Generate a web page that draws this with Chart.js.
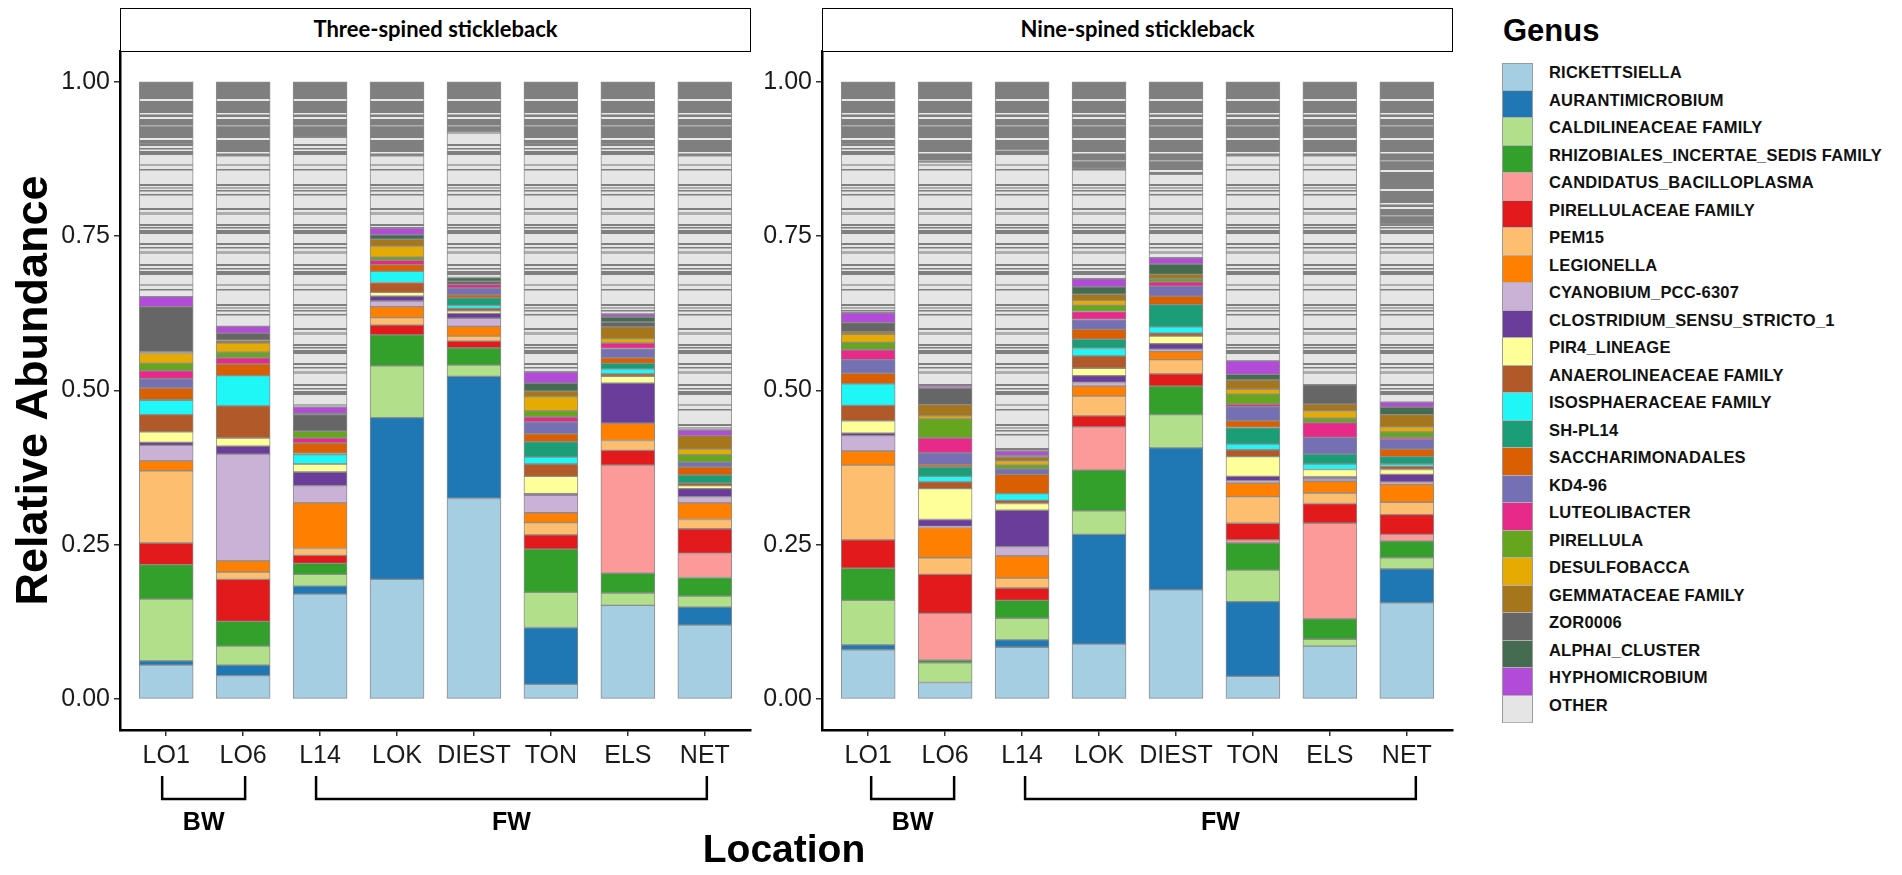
<!DOCTYPE html>
<html>
<head>
<meta charset="utf-8">
<title>Genus relative abundance by location</title>
<script src="https://cdn.jsdelivr.net/npm/chart.js@4.4.1/dist/chart.umd.min.js"></script>
<style>
  html, body { margin: 0; padding: 0; background: #fff; }
  body { width: 1902px; height: 875px; position: relative; overflow: hidden; font-family: 'Liberation Sans', Arial, sans-serif; }
  canvas { position: absolute; top: 0; }
  #left { left: 0; }
  #right { left: 760px; }
  .strip { position: absolute; top: 8px; width: 631px; height: 44px; box-sizing: border-box; border: 1.5px solid #000;
           background: #fff; font: bold 22px Lato, sans-serif; text-align: center; line-height: 40px; color: #000; }
  #xtitle { position: absolute; left: 584px; width: 400px; top: 829px; text-align: center;
            font: bold 39px 'Liberation Sans', Arial, sans-serif; line-height: 39px; color: #000; }
  #genus { position: absolute; left: 1503px; top: 15px; font: bold 31px 'Liberation Sans', Arial, sans-serif; line-height: 31px; }
  #legend { position: absolute; left: 1502px; top: 63px; }
  .row { position: relative; height: 27.5px; width: 400px; }
  .key { position: absolute; left: 0; top: 0; width: 31px; height: 27.5px; box-sizing: border-box;
         border-left: 1px solid #9a9a9a; border-right: 1px solid #9a9a9a; border-bottom: 1px solid #b0b0b0; }
  .row:first-child .key { border-top: 1px solid #9a9a9a; }
  .lbl { position: absolute; left: 47px; top: 0; line-height: 28px; white-space: nowrap;
         font: bold 16.5px 'Liberation Sans', Arial, sans-serif; color: #111; letter-spacing: 0.2px; }
</style>
</head>
<body>
<canvas id="left" width="760" height="875"></canvas>
<canvas id="right" width="700" height="875"></canvas>
<div class="strip" style="left:120px">Three-spined stickleback</div>
<div class="strip" style="left:822px">Nine-spined stickleback</div>
<div id="xtitle">Location</div>
<div id="genus">Genus</div>
<div id="legend"></div>

<script>
// categories
var LOCATIONS = ['LO1', 'LO6', 'L14', 'LOK', 'DIEST', 'TON', 'ELS', 'NET'];
var GROUPS = [{ label: 'BW', from: 0, to: 1 }, { label: 'FW', from: 2, to: 7 }];
var Y_TICKS = [0, 0.25, 0.5, 0.75, 1];

var GENERA = ['RICKETTSIELLA', 'AURANTIMICROBIUM', 'CALDILINEACEAE FAMILY', 'RHIZOBIALES_INCERTAE_SEDIS FAMILY',
  'CANDIDATUS_BACILLOPLASMA', 'PIRELLULACEAE FAMILY', 'PEM15', 'LEGIONELLA', 'CYANOBIUM_PCC-6307',
  'CLOSTRIDIUM_SENSU_STRICTO_1', 'PIR4_LINEAGE', 'ANAEROLINEACEAE FAMILY', 'ISOSPHAERACEAE FAMILY', 'SH-PL14',
  'SACCHARIMONADALES', 'KD4-96', 'LUTEOLIBACTER', 'PIRELLULA', 'DESULFOBACCA', 'GEMMATACEAE FAMILY',
  'ZOR0006', 'ALPHAI_CLUSTER', 'HYPHOMICROBIUM'];
var GENUS_COLORS = ['#a6cee3', '#1f78b4', '#b2df8a', '#33a02c', '#fb9a99', '#e31a1c', '#fdbf6f', '#ff7f00', '#cab2d6',
  '#6a3d9a', '#ffff99', '#b15928', '#1ff6f6', '#1b9e77', '#d95f02', '#7570b3', '#e7298a', '#66a61e', '#e6ab02',
  '#a6761d', '#666666', '#456c51', '#b24bd8'];
var OTHER_COLOR = '#e5e5e5';

// Three-spined stickleback, one array per location, genera in GENERA order
var TS_LO1   = [0.055, 0.007, 0.100, 0.056, 0, 0.035, 0.117, 0.016, 0.025, 0.005, 0.017, 0.028, 0.023, 0.001, 0.019, 0.015, 0.013, 0.012, 0.016, 0.003, 0.073, 0, 0.016];
var TS_LO6   = [0.038, 0.017, 0.031, 0.040, 0, 0.068, 0.012, 0.018, 0.173, 0.013, 0.013, 0.052, 0.049, 0, 0.019, 0, 0.010, 0.009, 0.015, 0.004, 0.012, 0, 0.011];
var TS_L14   = [0.170, 0.013, 0.019, 0.018, 0, 0.013, 0.011, 0.074, 0.028, 0.022, 0.013, 0, 0.015, 0.002, 0.017, 0, 0.008, 0.011, 0, 0, 0.027, 0.002, 0.010];
var TS_LOK   = [0.194, 0.262, 0.084, 0.050, 0, 0.016, 0.012, 0.018, 0.009, 0.008, 0.006, 0.016, 0.018, 0, 0.011, 0, 0.007, 0.005, 0.018, 0.011, 0, 0.007, 0.011];
var TS_DIEST = [0.325, 0.198, 0.018, 0.028, 0, 0.011, 0.008, 0.016, 0.013, 0.008, 0.004, 0.004, 0.005, 0.012, 0.005, 0.011, 0.006, 0, 0, 0, 0.005, 0.006, 0];
var TS_TON   = [0.024, 0.092, 0.057, 0.070, 0, 0.023, 0.020, 0.016, 0.028, 0.003, 0.028, 0.020, 0.011, 0.025, 0.013, 0.019, 0.008, 0.010, 0.023, 0.009, 0, 0.013, 0.018];
var TS_ELS   = [0.152, 0, 0.020, 0.032, 0.175, 0.024, 0.016, 0.028, 0, 0.065, 0.011, 0.004, 0.008, 0.009, 0.009, 0.015, 0.009, 0, 0.007, 0.019, 0.008, 0.008, 0.005];
var TS_NET   = [0.120, 0.029, 0.018, 0.030, 0.039, 0.040, 0.015, 0.027, 0.010, 0.013, 0.005, 0.004, 0, 0.013, 0.013, 0.008, 0, 0.012, 0.009, 0.022, 0, 0, 0.009];
// OTHER: the light part, then the dense band of tiny taxa at the top
var TS_OTHER = [0.248, 0.276, 0.437, 0.117, 0.237, 0.370, 0.276, 0.444];
var TS_RARE  = [0.100, 0.120, 0.090, 0.120, 0.080, 0.100, 0.100, 0.120];

// Nine-spined stickleback
var NS_LO1   = [0.080, 0.008, 0.072, 0.052, 0, 0.046, 0.121, 0.023, 0.025, 0.004, 0.020, 0.025, 0.035, 0, 0.017, 0.022, 0.016, 0.012, 0.013, 0.004, 0.015, 0, 0.016];
var NS_LO6   = [0.027, 0, 0.032, 0.004, 0.076, 0.063, 0.027, 0.049, 0.002, 0.011, 0.050, 0.011, 0.009, 0.015, 0.004, 0.019, 0.024, 0.031, 0.005, 0.018, 0.027, 0, 0.003];
var NS_L14   = [0.084, 0.012, 0.035, 0.029, 0, 0.020, 0.016, 0.036, 0.015, 0.059, 0.011, 0.005, 0.011, 0, 0.031, 0.009, 0, 0.006, 0.006, 0.007, 0.003, 0, 0.007];
var NS_LOK   = [0.089, 0.178, 0.038, 0.066, 0.070, 0.018, 0.032, 0.016, 0.006, 0.011, 0.012, 0.020, 0.012, 0.015, 0.016, 0.016, 0.013, 0.010, 0.008, 0.010, 0, 0.012, 0.013];
var NS_DIEST = [0.177, 0.230, 0.054, 0.046, 0, 0.020, 0.023, 0.013, 0.004, 0.009, 0.012, 0.005, 0.010, 0.036, 0.014, 0.016, 0.007, 0.005, 0, 0.007, 0, 0.017, 0.010];
var NS_TON   = [0.037, 0.121, 0.051, 0.044, 0.005, 0.027, 0.043, 0.022, 0.004, 0.007, 0.032, 0.011, 0.009, 0.027, 0.011, 0.023, 0.004, 0.016, 0.008, 0.015, 0, 0.009, 0.022];
var NS_ELS   = [0.086, 0, 0.011, 0.033, 0.155, 0.032, 0.017, 0.019, 0.004, 0.003, 0.012, 0, 0.009, 0.016, 0, 0.027, 0.024, 0.007, 0.011, 0.012, 0.031, 0, 0];
var NS_NET   = [0.156, 0.055, 0.018, 0.027, 0.011, 0.032, 0.020, 0.029, 0.004, 0.012, 0.008, 0.005, 0.004, 0.012, 0.012, 0.016, 0.003, 0.009, 0.008, 0.020, 0, 0.012, 0.008];
var NS_OTHER = [0.274, 0.363, 0.488, 0.179, 0.135, 0.332, 0.371, 0.289];
var NS_RARE  = [0.100, 0.130, 0.110, 0.140, 0.150, 0.120, 0.120, 0.230];

var THREE_SPINED = [TS_LO1, TS_LO6, TS_L14, TS_LOK, TS_DIEST, TS_TON, TS_ELS, TS_NET];
var NINE_SPINED = [NS_LO1, NS_LO6, NS_L14, NS_LOK, NS_DIEST, NS_TON, NS_ELS, NS_NET];

// striped fills so the grey "OTHER" parts look like many thin slices
function stripes(bg, h, lines) {
  var c = document.createElement('canvas');
  c.width = 8; c.height = h;
  var g = c.getContext('2d');
  g.fillStyle = bg;
  g.fillRect(0, 0, 8, h);
  lines.forEach(function (l) {
    g.fillStyle = l[2];
    g.fillRect(0, l[0], 8, l[1]);
  });
  return g.createPattern(c, 'repeat');
}
var DK = '#7f7f7f', MD = '#adadad', LT = '#e8e8e8';
var otherFill = stripes(OTHER_COLOR, 120, [[3, 2, DK], [7, 1.5, DK], [11, 3, MD], [24, 2, DK], [28, 1.5, DK],
  [31, 4, DK], [44, 2, MD], [49, 1.5, DK], [64, 2, DK], [67, 2, MD], [70, 1.5, DK], [74, 1.5, DK],
  [88, 2, DK], [92, 3, MD], [104, 2, DK], [107, 1.5, DK], [110, 4, DK]]);
var rareFill = stripes('#7f7f7f', 90, [[9, 2, LT], [23, 1.5, LT], [27, 2, LT], [35, 1.5, MD],
  [48, 2, LT], [62, 1.5, LT], [70, 1.5, MD], [80, 2, LT]]);

Chart.defaults.font.family = "'Liberation Sans', Arial, sans-serif";
Chart.defaults.color = '#1a1a1a';

// BW / FW brackets under the location labels
var bracketPlugin = {
  id: 'brackets',
  afterDraw: function (chart, args, opts) {
    var ctx = chart.ctx, xs = chart.scales.x, base = chart.chartArea.bottom;
    ctx.save();
    ctx.strokeStyle = '#000';
    ctx.lineWidth = 2.5;
    ctx.fillStyle = '#000';
    ctx.font = 'bold 25px "Liberation Sans", Arial, sans-serif';
    ctx.textAlign = 'center';
    ctx.textBaseline = 'middle';
    GROUPS.forEach(function (g) {
      var x1 = xs.getPixelForValue(g.from) + opts.shiftL;
      var x2 = xs.getPixelForValue(g.to) + opts.shiftR;
      ctx.beginPath();
      ctx.moveTo(x1, base + 46);
      ctx.lineTo(x1, base + 69);
      ctx.lineTo(x2, base + 69);
      ctx.lineTo(x2, base + 46);
      ctx.stroke();
      ctx.fillText(g.label, (x1 + x2) / 2, base + 93);
    });
    ctx.restore();
  }
};

function buildPanel(id, bars, other, rare, axisWidth, padRight, showTitle, shiftL, shiftR) {
  var datasets = GENERA.map(function (name, g) {
    return {
      label: name,
      data: bars.map(function (bar, i) { return { x: i, y: bar[g] }; }),
      backgroundColor: GENUS_COLORS[g]
    };
  });
  datasets.push({ label: 'OTHER', data: other.map(function (v, i) { return { x: i, y: v }; }), backgroundColor: otherFill });
  datasets.push({ label: 'OTHER', data: rare.map(function (v, i) { return { x: i, y: v }; }), backgroundColor: rareFill });

  var tickFont = { size: 25 };
  return new Chart(document.getElementById(id), {
    type: 'bar',
    data: { datasets: datasets },
    plugins: [bracketPlugin],
    options: {
      responsive: false,
      animation: false,
      layout: { padding: { top: 51, right: padRight, bottom: 0, left: 0 } },
      datasets: { bar: { barThickness: 54, borderColor: '#8c8c8c', borderWidth: 1, borderSkipped: false } },
      plugins: {
        legend: { display: false },
        tooltip: { enabled: false },
        brackets: { shiftL: shiftL, shiftR: shiftR }
      },
      scales: {
        x: {
          type: 'linear',
          stacked: true,
          offset: false,
          min: -0.6,
          max: 7.6,
          afterBuildTicks: function (s) { s.ticks = LOCATIONS.map(function (_, i) { return { value: i }; }); },
          afterFit: function (s) { s.height = 145; },
          ticks: {
            font: tickFont, color: '#1a1a1a', padding: 5, maxRotation: 0, autoSkip: false,
            callback: function (v) { return LOCATIONS[v]; }
          },
          grid: { offset: false, drawOnChartArea: false, drawTicks: true, tickLength: 6, color: '#333', lineWidth: 1.5 },
          border: { display: true, color: '#000', width: 2.5 }
        },
        y: {
          stacked: true,
          min: -0.05,
          max: 1.05,
          afterBuildTicks: function (s) { s.ticks = Y_TICKS.map(function (v) { return { value: v }; }); },
          afterFit: function (s) { s.width = axisWidth; },
          ticks: { font: tickFont, color: '#1a1a1a', padding: 4, callback: function (v) { return v.toFixed(2); } },
          grid: { drawOnChartArea: false, drawTicks: true, tickLength: 6, color: '#333', lineWidth: 1.5 },
          border: { display: true, color: '#000', width: 2.5 },
          title: {
            display: showTitle,
            text: 'Relative Abundance',
            color: '#000',
            font: { size: 45, weight: 'bold', family: "'Liberation Sans', Arial, sans-serif" },
            padding: { top: 8, bottom: 0 }
          }
        }
      }
    }
  });
}

buildPanel('left', THREE_SPINED, TS_OTHER, TS_RARE, 120, 9, true, -4, 2);
buildPanel('right', NINE_SPINED, NS_OTHER, NS_RARE, 62, 7, false, 3, 9);

// legend
var legend = document.getElementById('legend');
GENERA.concat(['OTHER']).forEach(function (name, i) {
  var row = document.createElement('div');
  row.className = 'row';
  var key = document.createElement('div');
  key.className = 'key';
  key.style.background = i < GENERA.length ? GENUS_COLORS[i] : OTHER_COLOR;
  var lbl = document.createElement('div');
  lbl.className = 'lbl';
  lbl.textContent = name;
  row.appendChild(key);
  row.appendChild(lbl);
  legend.appendChild(row);
});
</script>
</body>
</html>
